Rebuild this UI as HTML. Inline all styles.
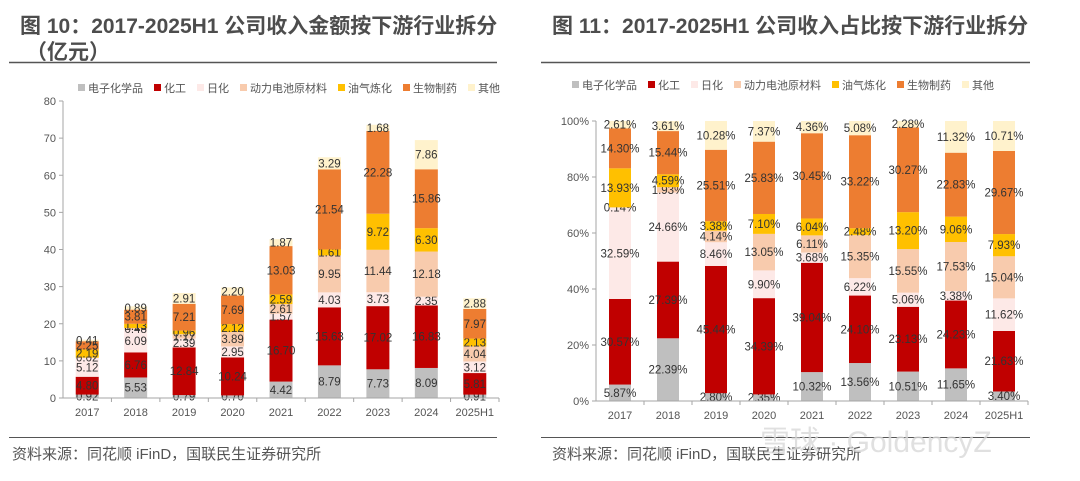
<!DOCTYPE html>
<html><head><meta charset="utf-8">
<style>
html,body{margin:0;padding:0;background:#fff;}
body{width:1080px;height:476px;overflow:hidden;font-family:"Liberation Sans","Noto Sans CJK SC",sans-serif;}
svg text{font-family:"Liberation Sans","Noto Sans CJK SC",sans-serif;}
</style></head>
<body>
<svg id="root" width="1080" height="476" viewBox="0 0 1080 476" xmlns="http://www.w3.org/2000/svg">
  <text x="20" y="33" font-size="21" font-weight="bold" fill="#4d4d4d">图 10：2017-2025H1 公司收入金额按下游行业拆分</text>
  <text x="26" y="59" font-size="21" font-weight="bold" fill="#4d4d4d">（亿元）</text>
  <line x1="9" y1="62.5" x2="497" y2="62.5" stroke="#555" stroke-width="1.5"/>
  <text x="552" y="33" font-size="21" font-weight="bold" fill="#4d4d4d">图 11：2017-2025H1 公司收入占比按下游行业拆分</text>
  <line x1="541" y1="62.5" x2="1030" y2="62.5" stroke="#555" stroke-width="1.5"/>
  <line x1="9" y1="437.5" x2="497" y2="437.5" stroke="#555" stroke-width="1"/>
  <line x1="541" y1="437.5" x2="1030" y2="437.5" stroke="#555" stroke-width="1"/>
  <text x="12" y="459" font-size="15" fill="#555">资料来源：同花顺 iFinD，国联民生证券研究所</text>
  <text x="552" y="459" font-size="15" fill="#555">资料来源：同花顺 iFinD，国联民生证券研究所</text>
  <text x="760" y="452" font-size="30" fill="#d9d9d9" opacity="0.8">雪球 · GoldencyZ</text>
  <g id="left"></g>
  <g id="right"></g>
</svg>
<script>
const categories = ["2017","2018","2019","2020","2021","2022","2023","2024","2025H1"];
const seriesNames = ["电子化学品","化工","日化","动力电池原材料","油气炼化","生物制药","其他"];
const seriesColors = ["#bfbfbf","#c00000","#fde9e7","#f8cbad","#ffc000","#ed7d31","#fff2cc"];
const amtElectronic = [0.92,5.53,0.79,0.70,4.42,8.79,7.73,8.09,0.91];
const amtChemical = [4.80,6.76,12.84,10.24,16.70,15.63,17.02,16.83,5.81];
const amtDaily = [5.12,6.09,2.39,2.95,1.57,4.03,3.73,2.35,3.12];
const amtBattery = [0.02,0.48,1.17,3.89,2.61,9.95,11.44,12.18,4.04];
const amtOil = [2.19,1.13,0.96,2.12,2.59,1.61,9.72,6.30,2.13];
const amtBio = [2.25,3.81,7.21,7.69,13.03,21.54,22.28,15.86,7.97];
const amtOther = [0.41,0.89,2.91,2.20,1.87,3.29,1.68,7.86,2.88];
const pctElectronic = [5.87,22.39,2.80,2.35,10.32,13.56,10.51,11.65,3.40];
const pctChemical = [30.57,27.39,45.44,34.39,39.04,24.10,23.13,24.23,21.63];
const pctDaily = [32.59,24.66,8.46,9.90,3.68,6.22,5.06,3.38,11.62];
const pctBattery = [0.14,1.93,4.14,13.05,6.11,15.35,15.55,17.53,15.04];
const pctOil = [13.93,4.59,3.38,7.10,6.04,2.48,13.20,9.06,7.93];
const pctBio = [14.30,15.44,25.51,25.83,30.45,33.22,30.27,22.83,29.67];
const pctOther = [2.61,3.61,10.28,7.37,4.36,5.08,2.28,11.32,10.71];
const leftTicks = [0,10,20,30,40,50,60,70,80];
const rightTicks = [0,20,40,60,80,100];

const NS="http://www.w3.org/2000/svg";
function mk(tag,attrs,parent){const e=document.createElementNS(NS,tag);for(const k in attrs)e.setAttribute(k,attrs[k]);parent.appendChild(e);return e;}

function drawChart(g, series, ticks, cfg){
  const x0=cfg.x0,x1=cfg.x1,y0=cfg.y0,y1=cfg.y1,ymax=ticks[ticks.length-1];
  const yS=v=>y0-(v/ymax)*(y0-y1);
  const bw=(x1-x0)/categories.length;
  const xC=i=>x0+bw*(i+0.5);
  let lx=cfg.legX;
  seriesNames.forEach((n,k)=>{
    const r=mk('rect',{x:lx,y:cfg.legY-4,width:7,height:7,fill:seriesColors[k]},g);
    
    
    const t=mk('text',{x:lx+10,y:cfg.legY+4,'font-size':11,fill:'#555'},g);
    t.textContent=n;
    
    
    lx+=10+n.length*11+cfg.legGap;
  });
  const ya=mk('line',{x1:x0,y1:y0,x2:x0,y2:y1,stroke:'#a6a6a6'},g);
  
  
  ticks.forEach(t=>{
    const y=yS(t);
    mk('line',{x1:x0-4,y1:y,x2:x0,y2:y,stroke:'#a6a6a6'},g);
    const tx=mk('text',{x:x0-7,y:y+4,'font-size':11,fill:'#555','text-anchor':'end'},g);
    tx.textContent=t+cfg.suffix;
    
    
  });
  categories.forEach((c,i)=>{
    let acc=0;
    series.forEach((s,k)=>{
      const v=s[i];
      const ya_=yS(acc+v),yb=yS(acc);
      const r=mk('rect',{x:xC(i)-cfg.barW/2,y:ya_,width:cfg.barW,height:Math.max(0,yb-ya_),fill:seriesColors[k]},g);
      
      
      const lb=mk('text',{x:xC(i),y:(ya_+yb)/2+4,'font-size':11.5,fill:'#333','text-anchor':'middle'},g);
      lb.textContent=v.toFixed(2)+cfg.suffix;
      
      
      acc+=v;
    });
  });
  const xa=mk('line',{x1:x0,y1:y0,x2:x1,y2:y0,stroke:'#a6a6a6'},g);
  
  
  categories.forEach((c,i)=>{
    mk('line',{x1:x0+bw*(i+1),y1:y0,x2:x0+bw*(i+1),y2:y0+4,stroke:'#a6a6a6'},g);
    const t=mk('text',{x:xC(i),y:y0+18,'font-size':11,fill:'#555','text-anchor':'middle'},g);
    t.textContent=c;
    
    
  });
}
drawChart(document.getElementById('left'),[amtElectronic,amtChemical,amtDaily,amtBattery,amtOil,amtBio,amtOther],leftTicks,
  {x0:63,x1:499,y0:398,y1:101,barW:23,suffix:'',legX:78,legY:88,legGap:11});
drawChart(document.getElementById('right'),[pctElectronic,pctChemical,pctDaily,pctBattery,pctOil,pctBio,pctOther],rightTicks,
  {x0:596,x1:1028,y0:401,y1:121,barW:22,suffix:'%',legX:572,legY:85,legGap:11});
</script>
</body></html>
